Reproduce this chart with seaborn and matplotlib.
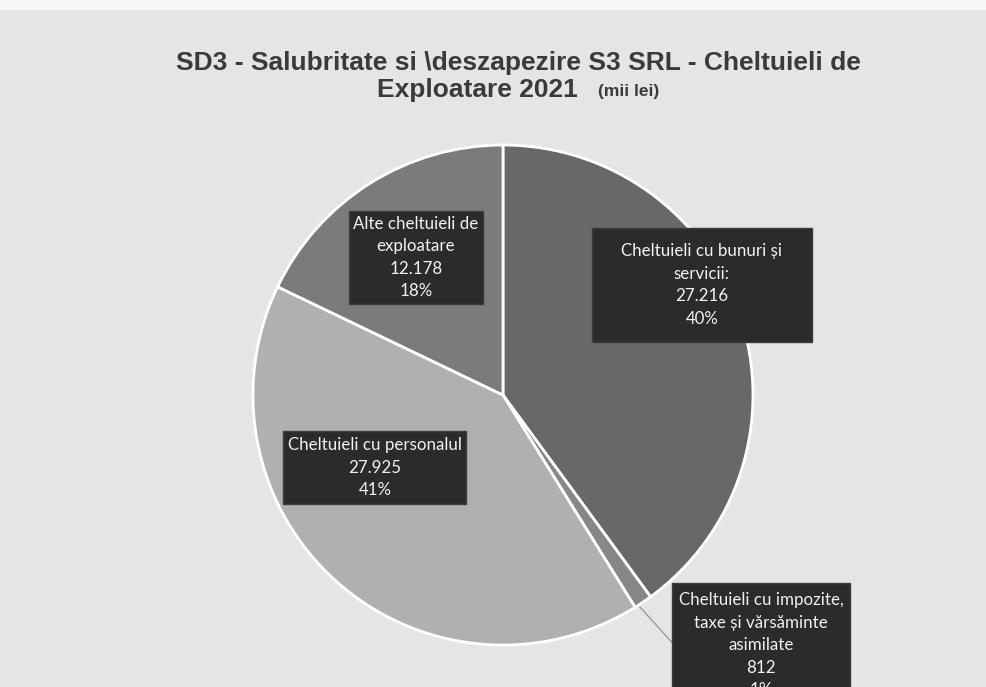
import seaborn as sns
import matplotlib.pyplot as plt
from matplotlib.patches import Rectangle

# data (mii lei)
categories = ["Cheltuieli cu bunuri și\nservicii:",
              "Cheltuieli cu impozite,\ntaxe și vărsăminte\nasimilate",
              "Cheltuieli cu personalul",
              "Alte cheltuieli de\nexploatare"]
values = [27216, 812, 27925, 12178]
value_labels = ["27.216", "812", "27.925", "12.178"]
slice_colors = ["#686868", "#878787", "#b0b0b0", "#7b7b7b"]

# label box centres and sizes, in pie units (radius = 1)
label_pos = [(0.796, 0.44), (1.032, -1.0), (-0.512, -0.29), (-0.348, 0.55)]
box_size = [(0.88, 0.456), (0.712, 0.50), (0.732, 0.292), (0.536, 0.372)]

sns.set_theme(style="white")
plt.rcParams['font.family'] = ['Lato', 'DejaVu Sans']

fig = plt.figure(figsize=(9.87, 6.87), dpi=100)
fig.patch.set_facecolor("#e5e5e5")
fig.patches.append(Rectangle((0, 0.985), 1, 0.015, transform=fig.transFigure,
                             facecolor="#f7f7f7", edgecolor="none"))

ax = fig.add_axes([0.2563, 0.0611, 0.5066, 0.7278])
ax.set_facecolor("none")
wedges, _ = ax.pie(values, colors=slice_colors, startangle=90, counterclock=False,
                   wedgeprops=dict(edgecolor="white", linewidth=2))
ax.set_xlim(-1, 1)
ax.set_ylim(-1, 1)
ax.set_aspect("equal")
ax.axis("off")

total = sum(values)
for i, (cat, val, vl) in enumerate(zip(categories, values, value_labels)):
    pct = f"{round(100 * val / total)}%"
    txt = f"{cat}\n{vl}\n{pct}"
    x, y = label_pos[i]
    w, h = box_size[i]
    ax.add_patch(Rectangle((x - w / 2, y - h / 2), w, h, facecolor="#2b2b2b",
                           edgecolor="#3c3c3c", lw=1, zorder=4, clip_on=False))
    ax.text(x, y, txt, ha="center", va="center", color="#f2f2f2", fontsize=12.2,
            linespacing=1.5, clip_on=False, zorder=5)

# leader line for the small slice
ax.plot([0.548, 0.676], [-0.848, -0.99], color="#9a9a9a", lw=1, clip_on=False, zorder=3)

title_font = ['Liberation Sans', 'DejaVu Sans']
fig.text(0.525, 0.898, "SD3 - Salubritate si \\deszapezire S3 SRL - Cheltuieli de",
         ha="center", va="baseline", fontsize=19, fontweight="bold", color="#3a3a3a",
         family=title_font)
fig.text(0.5856, 0.859, "Exploatare 2021", ha="right", va="baseline", fontsize=19,
         fontweight="bold", color="#3a3a3a", family=title_font)
fig.text(0.606, 0.86, "(mii lei)", ha="left", va="baseline", fontsize=12.5,
         fontweight="bold", color="#3a3a3a", family=title_font)

fig.savefig("out.png", dpi=100, facecolor=fig.get_facecolor())
